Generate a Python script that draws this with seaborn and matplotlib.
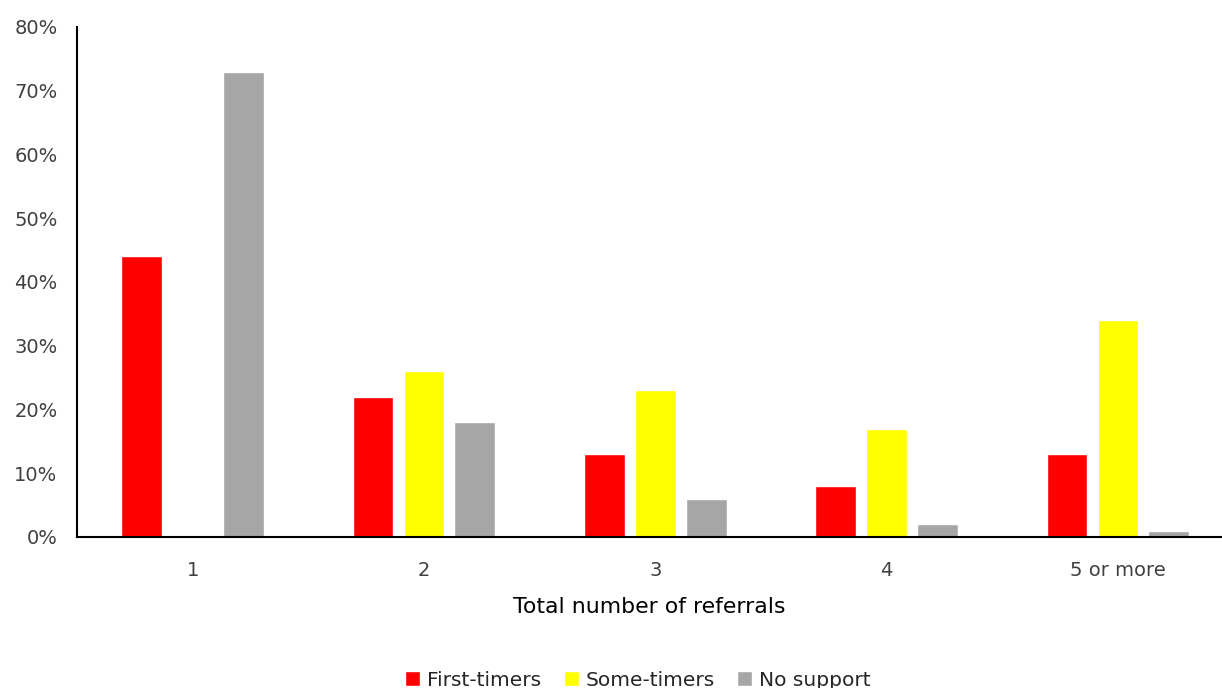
"""Referral share by support group."""

import matplotlib

matplotlib.use("Agg")
import matplotlib.pyplot as plt
import pandas as pd
import seaborn as sns
from matplotlib.ticker import PercentFormatter

categories = ["1", "2", "3", "4", "5 or more"]
groups = ["First-timers", "Some-timers", "No support"]
first_timers = [44, 22, 13, 8, 13]
some_timers = [0, 26, 23, 17, 34]
no_support = [73, 18, 6, 2, 1]
y_ticks = [0, 10, 20, 30, 40, 50, 60, 70, 80]

frame = pd.DataFrame(
    {
        "referrals": categories * 3,
        "group": [g for g in groups for _ in categories],
        "share": first_timers + some_timers + no_support,
    }
)

sns.set_theme(style="white")
plt.rcParams["font.family"] = ["DejaVu Sans"]

fig = plt.figure(figsize=(12.22, 6.88), dpi=100)
ax = fig.add_axes([0.063, 0.2195, 0.937, 0.7413])
palette = {"First-timers": "#FF0000", "Some-timers": "#FFFF00", "No support": "#A6A6A6"}
sns.barplot(
    data=frame, x="referrals", y="share", hue="group", palette=palette,
    width=0.66, gap=0.2, saturation=1, ax=ax, legend=True,
)

ax.set_ylim(0, 80)
ax.set_xlim(-0.5, 4.45)
ax.set_yticks(y_ticks)
ax.yaxis.set_major_formatter(PercentFormatter(decimals=0))
ax.tick_params(axis="both", length=0, labelsize=14, colors="#404040")
ax.tick_params(axis="y", pad=14)
ax.tick_params(axis="x", pad=17)
ax.set_xlabel("Total number of referrals", fontsize=15.8, color="black", labelpad=12.5)
ax.set_ylabel("")
sns.despine(ax=ax, top=True, right=True)
for side in ["left", "bottom"]:
    ax.spines[side].set_color("black")
    ax.spines[side].set_linewidth(1.5)

ax.legend(
    loc="lower center", bbox_to_anchor=(0.49, -0.335), ncol=3, frameon=False,
    fontsize=14.5, handlelength=0.75, handleheight=0.75, handletextpad=0.35, columnspacing=1.1,
)

fig.savefig("out.png", dpi=100)
plt.close(fig)
